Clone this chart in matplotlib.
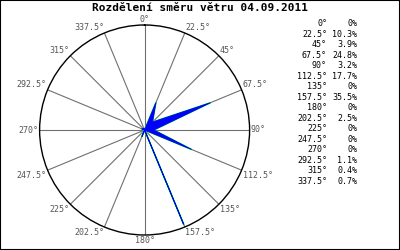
import numpy as np
import matplotlib.pyplot as plt
from matplotlib import patches

# wind direction distribution, 16 sectors
directions = [0, 22.5, 45, 67.5, 90, 112.5, 135, 157.5,
              180, 202.5, 225, 247.5, 270, 292.5, 315, 337.5]
percent = [0, 10.3, 3.9, 24.8, 3.2, 17.7, 0, 35.5,
           0, 2.5, 0, 0, 0, 1.1, 0.4, 0.7]
title = "Rozdělení směru větru 04.09.2011"

plt.rcParams['font.family'] = ['DejaVu Sans Mono']

fig = plt.figure(figsize=(4, 2.5), dpi=100)
ax = fig.add_axes([0.099, 0.06, 0.525, 0.84], projection='polar')
ax.set_theta_zero_location('N')
ax.set_theta_direction(-1)
rmax = 36.5
ax.set_ylim(0, rmax)
ax.grid(False)
ax.set_xticks([])
ax.set_yticks([])
ax.spines['polar'].set_linewidth(1.0)
ax.spines['polar'].set_color('black')

theta = np.deg2rad(directions)

# spokes
for t in theta:
    ax.plot([t, t], [0, rmax], color='#707070', lw=0.8, zorder=1)

# filled polygon of the distribution
th = np.append(theta, theta[0])
rr = np.append(percent, percent[0])
ax.plot(th, rr, color='#00ee00', lw=1.0, zorder=2)
ax.fill(th, rr, color='#0000ff', lw=0.6, ec='#0000ff', zorder=3)

# angle labels around the circle
for d, t in zip(directions, theta):
    s, c = np.sin(t), np.cos(t)
    ha = 'left' if s > 0.1 else ('right' if s < -0.1 else 'center')
    va = 'bottom' if c > 0.1 else ('top' if c < -0.1 else 'center')
    lab = f"{d:g}°"
    ax.text(t, rmax * 1.01, lab, ha=ha, va=va, fontsize=6,
            color='#555555', zorder=4)

fig.text(0.5, 1 - 3 / 250, title, ha='center', va='top', fontsize=8,
         fontweight='bold', color='black')

# table on the right
y0 = 0.905
dy = 10.5 / 250
for i, (d, p) in enumerate(zip(directions, percent)):
    y = y0 - i * dy
    fig.text(327 / 400, y, f"{d:g}°", ha='right', va='center', fontsize=6)
    fig.text(357 / 400, y, f"{p:g}%", ha='right', va='center', fontsize=6)

fig.patches.append(patches.Rectangle((0, 0), 1, 1, transform=fig.transFigure,
                                     fill=False, ec='black', lw=1.5))

fig.savefig('out.png', dpi=100)
